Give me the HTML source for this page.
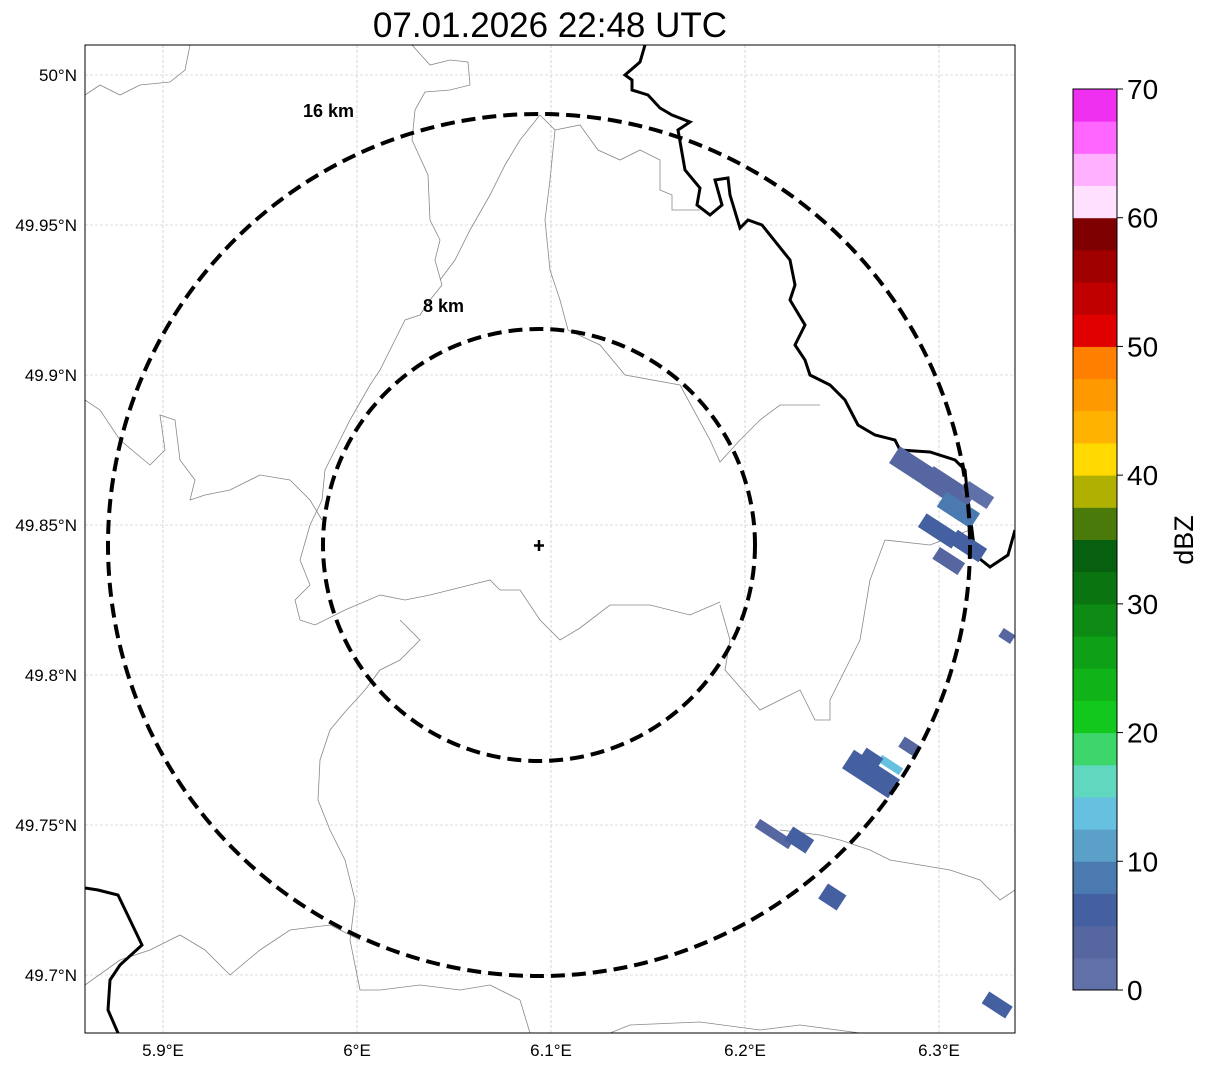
<!DOCTYPE html>
<html><head><meta charset="utf-8"><style>
body{margin:0;background:#fff;width:1207px;height:1069px;overflow:hidden;font-family:"Liberation Sans",sans-serif}
</style></head><body>
<svg width="1207" height="1069" xmlns="http://www.w3.org/2000/svg" font-family="Liberation Sans, sans-serif">
<text x="550" y="37" font-size="35" text-anchor="middle">07.01.2026 22:48 UTC</text>
<defs><clipPath id="mc"><rect x="85" y="45" width="930" height="988"/></clipPath></defs>
<g id="grid"></g>
<g clip-path="url(#mc)">
<g fill="none" stroke="#888" stroke-width="0.8">
<path d="M85,95 L100,85 L120,95 L140,85 L170,82 L185,70 L190,45"/>
<path d="M412,45 L430,65 L450,60 L468,62 L470,85 L450,90 L425,92 L415,110 L412,140 L428,175 L430,220 L440,240 L435,260 L442,285 L430,300 L420,315 L405,320 L395,340 L380,370 L370,385 L350,420 L335,450 L325,470 L322,500 L310,525 L300,560 L310,585 L295,600 L300,620 L315,625 L345,610 L380,595 L405,600 L430,595 L470,585 L490,580 L500,590 L520,590 L540,620 L560,640 L580,628 L610,605 L650,605 L690,615 L720,602"/>
<path d="M85,400 L100,410 L120,440 L150,465 L165,450 L160,415 L175,420 L180,460 L195,480 L190,500 L205,495 L230,490 L260,475 L290,480 L310,500 L322,520"/>
<path d="M540,115 L520,140 L505,165 L490,195 L470,230 L455,260 L440,280"/>
<path d="M540,115 L555,130 L550,180 L545,220 L550,270 L560,300 L568,330 L600,345 L625,375 L680,385 L710,440 L720,462 L740,440 L760,420 L780,405 L820,405"/>
<path d="M555,130 L580,125 L598,150 L620,160 L640,150 L660,160 L660,190 L672,195 L672,210 L700,210"/>
<path d="M400,620 L420,640 L400,660 L380,670 L365,690 L345,712 L330,730 L320,760 L318,800 L330,830 L345,860 L355,900 L350,940 L360,990 L380,990 L420,985 L460,990 L490,985 L520,1000 L530,1033"/>
<path d="M85,985 L120,960 L150,950 L180,935 L205,950 L230,975 L260,950 L290,930 L330,925 L360,940"/>
<path d="M720,605 L730,640 L725,670 L760,710 L800,690 L815,720 L830,720 L830,700 L860,640 L870,580 L885,540 L930,545 L970,530"/>
<path d="M780,830 L820,835 L840,840 L870,850 L890,860 L950,870 L980,880 L1000,900 L1015,890"/>
<path d="M610,1033 L630,1025 L700,1022 L760,1030 L800,1025 L860,1033"/>
</g>
<g fill="none" stroke="#000" stroke-width="3">
<path d="M645,45 L640,62 L625,75 L632,80 L632,90 L648,95 L660,108 L672,115 L690,122 L678,130 L685,170 L700,188 L697,205 L710,215 L722,205 L715,180 L728,178 L730,195 L740,228 L748,220 L762,225 L790,260 L795,285 L790,300 L805,325 L795,345 L805,360 L810,375 L830,385 L845,400 L858,425 L875,435 L895,440 L900,450 L930,452 L955,460 L965,470 L968,500 L972,530 L975,555 L990,567 L1008,555 L1015,530"/>
<path d="M85,888 L98,890 L118,895 L130,920 L142,945 L120,965 L110,980 L108,1010 L118,1033"/>
</g>
<g id="blobs"></g>
<circle cx="539" cy="545" r="431" fill="none" stroke="#000" stroke-width="4" stroke-dasharray="14,7"/>
<circle cx="539" cy="545" r="216" fill="none" stroke="#000" stroke-width="4" stroke-dasharray="14,7"/>
<path d="M539,540 V551 M534,545.5 H544" stroke="#000" stroke-width="2.5"/>
<text x="303" y="117" font-size="18" font-weight="bold">16 km</text>
<text x="423" y="312" font-size="18" font-weight="bold">8 km</text>
</g>
<rect x="85" y="45" width="930" height="988" fill="none" stroke="#000" stroke-width="1"/>
<g id="ticks" font-size="17"></g>
<g id="cbar"></g>
<text transform="translate(1193,540) rotate(-90)" font-size="27" text-anchor="middle">dBZ</text>
</svg>
<script>
const NS='http://www.w3.org/2000/svg';
const lonTicks=[5.9,6.0,6.1,6.2,6.3];
const lonLabels=['5.9°E','6°E','6.1°E','6.2°E','6.3°E'];
const latTicks=[50.0,49.95,49.9,49.85,49.8,49.75,49.7];
const latLabels=['50°N','49.95°N','49.9°N','49.85°N','49.8°N','49.75°N','49.7°N'];
const cbColors=['#6070a8','#5566a0','#4560a0','#4a7ab0','#5aa0c8','#66c0e0','#60d8c0','#3dd66b','#12c81c','#10b418','#0ea016','#0c8a14','#0a7510','#066010','#4a7a0a','#b0b000','#ffd900','#ffb300','#ff9900','#ff8000','#e00000','#c00000','#a00000','#7f0000','#ffe0ff','#ffb0ff','#ff66ff','#f030f0'];
const cbTicks=[0,10,20,30,40,50,60,70];
const echoLon=[6.29,6.305,6.31,6.3,6.315,6.32,6.305,6.265,6.275,6.265,6.285,6.215,6.228,6.245,6.33,6.335];
const echoLat=[49.868,49.862,49.855,49.848,49.843,49.86,49.838,49.767,49.77,49.772,49.776,49.747,49.745,49.726,49.69,49.813];
const echoVal=[3,4,8,5,6,2,4,5,13,7,3,4,6,5,6,3];
const echoLen=[60,50,40,40,35,30,30,55,25,20,20,40,25,22,28,14];
const echoWid=[20,22,18,16,16,14,14,22,8,14,12,10,16,18,14,10];
const x=lon=>163+(lon-5.9)*1940;
const y=lat=>75+(50-lat)*3000;
function mk(tag,attrs,parent){const e=document.createElementNS(NS,tag);for(const k in attrs)e.setAttribute(k,attrs[k]);parent.appendChild(e);return e;}
const grid=document.getElementById('grid'),ticks=document.getElementById('ticks');
lonTicks.forEach((v,i)=>{const l=mk('line',{x1:x(v),x2:x(v),y1:45,y2:1033,stroke:'#bbb','stroke-width':0.6,'stroke-dasharray':'3,2'},grid);

const t=mk('text',{x:x(v),y:1056,'text-anchor':'middle'},ticks);t.textContent=lonLabels[i];
});
latTicks.forEach((v,i)=>{const l=mk('line',{x1:85,x2:1015,y1:y(v),y2:y(v),stroke:'#bbb','stroke-width':0.6,'stroke-dasharray':'3,2'},grid);

const t=mk('text',{x:77,y:y(v)+6,'text-anchor':'end'},ticks);t.textContent=latLabels[i];
});
const blobs=document.getElementById('blobs');
const colorFor=v=>cbColors[Math.max(0,Math.min(27,Math.floor(v/2.5)))];
echoLon.forEach((lo,i)=>{const cx=x(lo),cy=y(echoLat[i]);
const r=mk('rect',{x:cx-echoLen[i]/2,y:cy-echoWid[i]/2,width:echoLen[i],height:echoWid[i],fill:colorFor(echoVal[i]),transform:`rotate(33 ${cx} ${cy})`},blobs);
});
const cb=document.getElementById('cbar');const cbTop=89,cbBot=990,cbH=cbBot-cbTop,vmax=70;
const cy2=v=>cbBot-v/vmax*cbH;
cbColors.forEach((c,i)=>{const r=mk('rect',{x:1073,y:cy2((i+1)*2.5),width:44,height:cbH/28+0.5,fill:c},cb);
});
const fr=mk('rect',{x:1073,y:cbTop,width:44,height:cbH,fill:'none',stroke:'#000','stroke-width':1},cb);

cbTicks.forEach(v=>{mk('line',{x1:1117,x2:1123,y1:cy2(v),y2:cy2(v),stroke:'#000'},cb);
const t=mk('text',{x:1127,y:cy2(v)+10,'font-size':28},cb);t.textContent=v;
});
</script>
</body></html>
